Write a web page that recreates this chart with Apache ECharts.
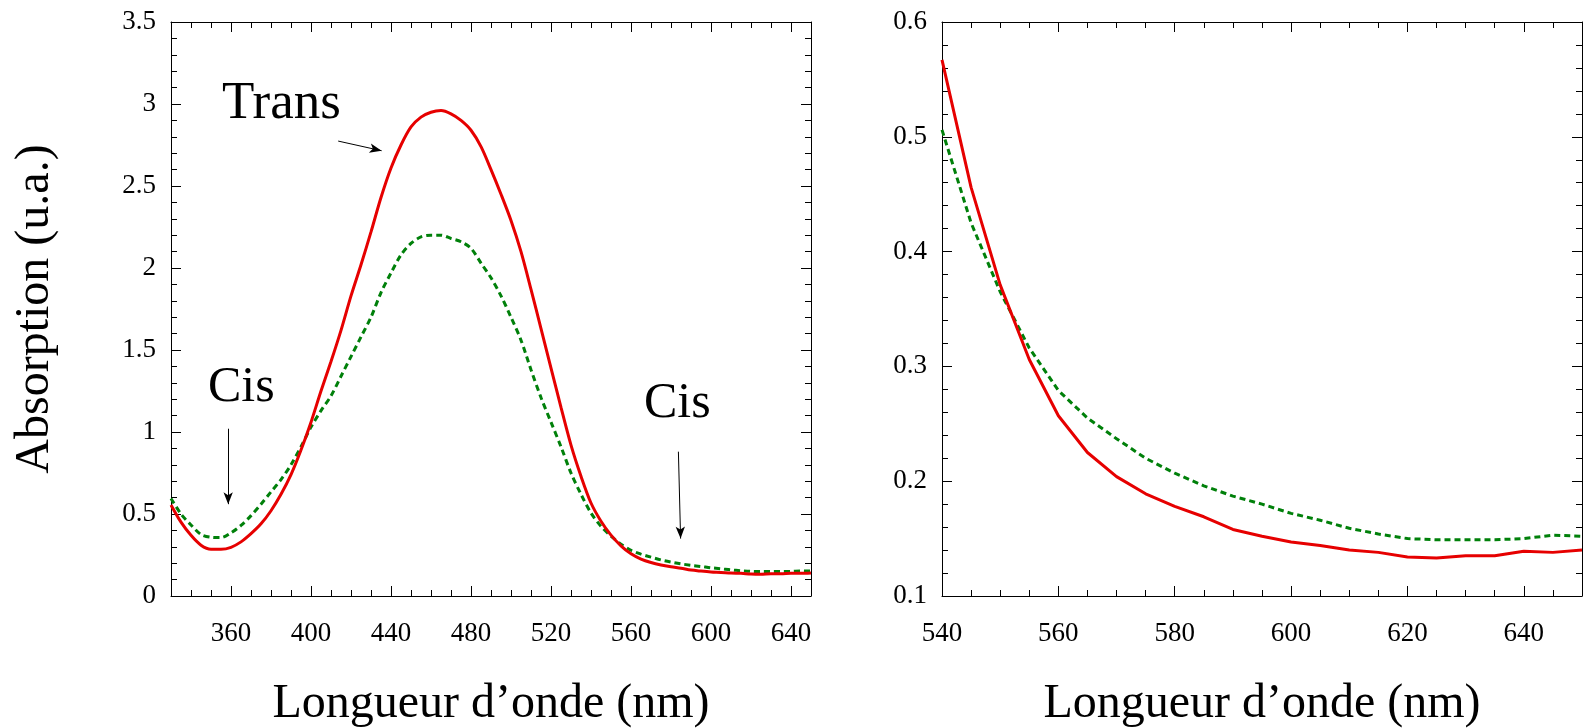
<!DOCTYPE html>
<html>
<head>
<meta charset="utf-8">
<script src="https://cdn.jsdelivr.net/npm/echarts@6/dist/echarts.min.js"></script>
<style>
  body { margin: 0; background: #fff; }
  #chart { width: 1583px; height: 728px; }
</style>
</head>
<body>
<div id="chart"></div>
<script>
// longueur d'onde (nm)
const wavelengths = [
  330, 335, 340, 345, 350, 355, 360, 365, 370, 375, 380, 385, 390, 395, 400, 405,
  410, 415, 420, 425, 430, 435, 440, 445, 450, 455, 460, 465, 470, 475, 480, 485,
  490, 495, 500, 505, 510, 515, 520, 525, 530, 535, 540, 545, 550, 555, 560, 565,
  570, 575, 580, 585, 590, 595, 600, 605, 610, 615, 620, 625, 630, 635, 640, 645, 650
]
// trans (rouge, trait plein)
const transAbs = [
  0.555, 0.45, 0.37, 0.31, 0.285, 0.285, 0.297, 0.33, 0.38, 0.44, 0.52, 0.62, 0.74, 0.89, 1.06, 1.25,
  1.43, 1.62, 1.83, 2.02, 2.22, 2.43, 2.61, 2.75, 2.86, 2.92, 2.95, 2.96, 2.94, 2.90, 2.84, 2.74,
  2.60, 2.45, 2.29, 2.10, 1.87, 1.63, 1.39, 1.15, 0.92, 0.73, 0.567, 0.456, 0.371, 0.306, 0.257, 0.225,
  0.204, 0.189, 0.178, 0.169, 0.158, 0.152, 0.147, 0.144, 0.140, 0.138, 0.134, 0.133, 0.135, 0.135, 0.139, 0.138, 0.140
]
// cis (vert, pointillés)
const cisAbs = [
  0.595, 0.50, 0.433, 0.375, 0.358, 0.356, 0.385, 0.43, 0.49, 0.56, 0.635, 0.71, 0.80, 0.91, 1.03, 1.13,
  1.22, 1.34, 1.46, 1.58, 1.70, 1.85, 1.97, 2.08, 2.15, 2.19, 2.20, 2.20, 2.18, 2.16, 2.12, 2.03,
  1.94, 1.83, 1.70, 1.56, 1.38, 1.21, 1.06, 0.91, 0.75, 0.62, 0.506, 0.425, 0.365, 0.316, 0.279, 0.255,
  0.237, 0.220, 0.207, 0.196, 0.187, 0.180, 0.172, 0.166, 0.159, 0.154, 0.150, 0.149, 0.149, 0.149, 0.150, 0.153, 0.152
]
const leftXTicks = [360, 400, 440, 480, 520, 560, 600, 640]
const rightXTicks = [540, 560, 580, 600, 620, 640]

const FONT = 'Liberation Serif'
const RED = '#e60000'
const GREEN = '#00800a'

const transData = wavelengths.map((w, i) => [w, transAbs[i]])
const cisData = wavelengths.map((w, i) => [w, cisAbs[i]])
// le zoom de droite ne garde que la partie >= 540 nm
const transZoom = transData.filter(d => d[0] >= 540)
const cisZoom = cisData.filter(d => d[0] >= 540)

// axe x : petites graduations via interval, grandes via customValues
function xAxes(grid, min, max, step, majors) {
  const base = {
    type: 'value', gridIndex: grid, min: min, max: max, interval: step,
    splitLine: { show: false },
    axisLine: { show: true, onZero: false, lineStyle: { color: '#000', width: 1 } },
    axisTick: { show: true, inside: true, length: 6, lineStyle: { color: '#000' } },
    axisLabel: { show: false }
  }
  const major = {
    axisLine: { show: false, onZero: false },
    axisTick: { show: true, inside: true, length: 10, customValues: majors, lineStyle: { color: '#000' } }
  }
  return [
    Object.assign({}, base, {
      position: 'bottom',
      name: 'Longueur d\u2019onde (nm)', nameLocation: 'middle', nameGap: 84,
      nameTextStyle: { fontFamily: FONT, fontSize: 48, color: '#000' },
      axisLabel: { show: true, customValues: majors, margin: 24, fontFamily: FONT, fontSize: 27, color: '#000' }
    }),
    Object.assign({}, base, major, { position: 'bottom' }),
    Object.assign({}, base, { position: 'top' }),
    Object.assign({}, base, major, { position: 'top' })
  ]
}

function yAxes(grid, min, max, step, name) {
  const base = {
    type: 'value', gridIndex: grid, min: min, max: max, interval: step,
    splitLine: { show: false },
    axisLine: { show: true, onZero: false, lineStyle: { color: '#000', width: 1 } },
    axisTick: { show: true, inside: true, length: 10, lineStyle: { color: '#000' } },
    minorTick: { show: true, splitNumber: 5, length: 6, lineStyle: { color: '#000' } },
    axisLabel: { show: false }
  }
  const left = Object.assign({}, base, {
    position: 'left',
    axisLabel: { show: true, margin: 15, fontFamily: FONT, fontSize: 27, color: '#000' }
  })
  if (name) {
    left.name = name
    left.nameLocation = 'middle'
    left.nameGap = 112
    left.nameTextStyle = { fontFamily: FONT, fontSize: 48, color: '#000' }
  }
  return [left, Object.assign({}, base, { position: 'right' })]
}

function arrow(from, to) {
  return [{ coord: from, symbol: 'none' }, { coord: to, symbol: 'arrow', symbolSize: [7, 12] }]
}

const chart = echarts.init(document.getElementById('chart'))
chart.setOption({
  animation: false,
  backgroundColor: '#fff',
  grid: [
    { left: 171, top: 22, width: 640, bottom: 132, outerBoundsMode: 'none', containLabel: false },
    { left: 942, top: 22, right: 1, bottom: 132, outerBoundsMode: 'none', containLabel: false }
  ],
  xAxis: [].concat(
    xAxes(0, 330, 650, 10, leftXTicks),
    xAxes(1, 540, 650, 5, rightXTicks)
  ),
  yAxis: [].concat(
    yAxes(0, 0, 3.5, 0.5, 'Absorption (u.a.)'),
    yAxes(1, 0.1, 0.6, 0.1, null)
  ),
  series: [
    {
      name: 'Trans', type: 'line', xAxisIndex: 0, yAxisIndex: 0, data: transData,
      symbol: 'none', smooth: 0.3, lineStyle: { color: RED, width: 3 }, z: 3,
      markLine: {
        silent: true, symbol: ['none', 'arrow'],
        lineStyle: { color: '#000', width: 1, type: 'solid' },
        label: { show: false },
        data: [
          arrow([413.6, 2.774], [435.3, 2.715]),
          arrow([358.5, 1.02], [358.6, 0.56]),
          arrow([583.7, 0.88], [584.8, 0.35])
        ]
      }
    },
    {
      name: 'Cis', type: 'line', xAxisIndex: 0, yAxisIndex: 0, data: cisData,
      symbol: 'none', smooth: 0.3, lineStyle: { color: GREEN, width: 3, type: [6, 4] }, z: 2
    },
    {
      name: 'Trans', type: 'line', xAxisIndex: 4, yAxisIndex: 2, data: transZoom,
      symbol: 'none', lineStyle: { color: RED, width: 3 }, z: 3
    },
    {
      name: 'Cis', type: 'line', xAxisIndex: 4, yAxisIndex: 2, data: cisZoom,
      symbol: 'none', lineStyle: { color: GREEN, width: 3, type: [6, 4] }, z: 2
    }
  ],
  graphic: [
    { type: 'text', left: 222, top: 78, style: { text: 'Trans', fontFamily: FONT, fontSize: 53, fill: '#000' } },
    { type: 'text', left: 208, top: 363, style: { text: 'Cis', fontFamily: FONT, fontSize: 50, fill: '#000' } },
    { type: 'text', left: 644, top: 379, style: { text: 'Cis', fontFamily: FONT, fontSize: 50, fill: '#000' } }
  ]
})
</script>
</body>
</html>
